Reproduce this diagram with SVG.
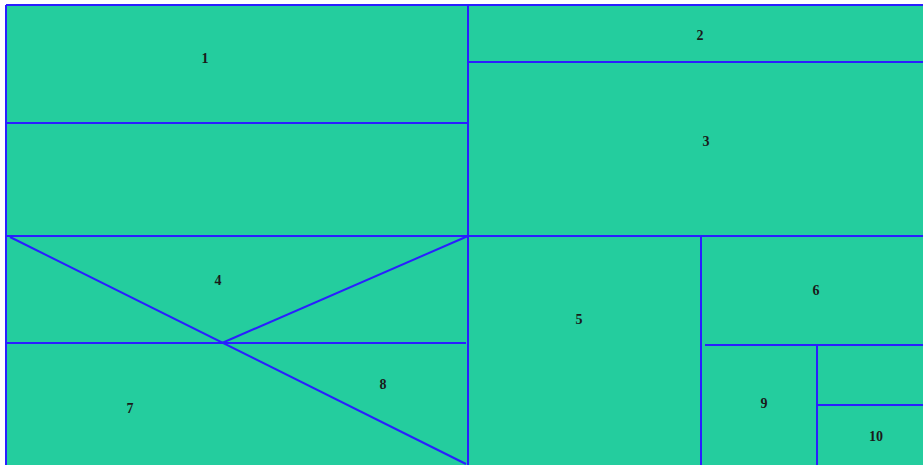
<svg xmlns="http://www.w3.org/2000/svg" width="923" height="465" viewBox="0 0 923 465">
<style>
.ln{stroke:#2a1fff;stroke-width:2;fill:none}
.lb{font-family:"Liberation Serif",serif;font-weight:bold;font-size:14px;fill:#1a1a1a;text-anchor:middle}
</style>
<rect x="0" y="0" width="923" height="465" fill="#ffffff"/>
<rect x="6" y="5" width="917" height="460" fill="#24cd9e"/>
<g id="connectors">
<line class="ln" x1="6" y1="5" x2="923" y2="5"/>
<line class="ln" x1="6" y1="5" x2="6" y2="465"/>
<line class="ln" x1="468" y1="5" x2="468" y2="465"/>
<line class="ln" x1="468" y1="62" x2="923" y2="62"/>
<line class="ln" x1="6" y1="123" x2="468" y2="123"/>
<line class="ln" x1="6" y1="236" x2="923" y2="236"/>
<line class="ln" x1="6" y1="343" x2="466" y2="343"/>
<line class="ln" x1="10" y1="237" x2="466" y2="464"/>
<line class="ln" x1="222" y1="343" x2="468" y2="236"/>
<line class="ln" x1="701" y1="236" x2="701" y2="465"/>
<line class="ln" x1="705" y1="345" x2="923" y2="345"/>
<line class="ln" x1="817" y1="345" x2="817" y2="465"/>
<line class="ln" x1="817" y1="405" x2="923" y2="405"/>
</g>
<g id="n1"><text class="lb" x="205" y="63">1</text></g>
<g id="n2"><text class="lb" x="700" y="40">2</text></g>
<g id="n3"><text class="lb" x="706" y="146">3</text></g>
<g id="n4"><text class="lb" x="218" y="285">4</text></g>
<g id="n5"><text class="lb" x="579" y="324">5</text></g>
<g id="n6"><text class="lb" x="816" y="295">6</text></g>
<g id="n7"><text class="lb" x="130" y="413">7</text></g>
<g id="n8"><text class="lb" x="383" y="389">8</text></g>
<g id="n9"><text class="lb" x="764" y="408">9</text></g>
<g id="n10"><text class="lb" x="876" y="441">10</text></g>
</svg>
